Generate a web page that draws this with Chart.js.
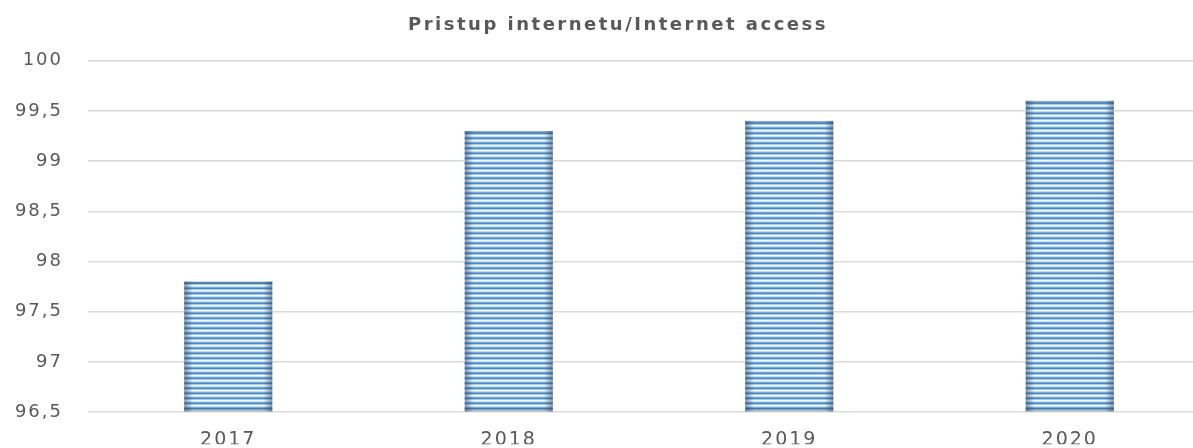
<!DOCTYPE html>
<html>
<head>
<meta charset="utf-8">
<script src="https://cdn.jsdelivr.net/npm/chart.js@4"></script>
<style>
  html, body { margin: 0; padding: 0; background: #fff; overflow: hidden; }
</style>
</head>
<body>
<canvas id="accessChart" width="1236" height="448"></canvas>
<script>
const years = ['2017', '2018', '2019', '2020'];
const accessValues = [97.8, 99.3, 99.4, 99.6];
const yTicks = [96.5, 97, 97.5, 98, 98.5, 99, 99.5, 100];

// horizontal stripe pattern for the bars
function stripePattern() {
    const c = document.createElement('canvas');
    c.width = 1; c.height = 5;
    const g = c.getContext('2d');
    const rows = ['#f4faff', '#c4e0f6', '#74abdc', '#5387ba', '#a2cbee'];
    rows.forEach((col, i) => { g.fillStyle = col; g.fillRect(0, i, 1, 1); });
    return g.createPattern(c, 'repeat');
}

// the source text is drawn wide: add letter spacing per element
function spaced(box, method, px) {
    if (!box || box['_sp_' + method]) return;
    const orig = box[method];
    box[method] = function (...args) {
        const c = this.ctx;
        const prev = c.letterSpacing;
        c.letterSpacing = px;
        orig.apply(this, args);
        c.letterSpacing = prev;
    };
    box['_sp_' + method] = true;
}
const wideText = {
    id: 'wideText',
    afterLayout(chart) {
        // centre the title a bit further right, as in the source
        chart.titleBlock.left = 26;
        chart.titleBlock.right = chart.chartArea.right;
        spaced(chart.titleBlock, 'draw', '2.5px');
        spaced(chart.scales.y, 'drawLabels', '2px');
        spaced(chart.scales.x, 'drawLabels', '2px');
    }
};

// darker shading along the bar edges
const edgeShade = {
    id: 'edgeShade',
    afterDatasetsDraw(chart) {
        const ctx = chart.ctx;
        chart.getDatasetMeta(0).data.forEach(bar => {
            const left = bar.x - bar.width / 2, right = bar.x + bar.width / 2;
            const grad = ctx.createLinearGradient(left, 0, right, 0);
            grad.addColorStop(0, 'rgba(40,60,90,0.5)');
            grad.addColorStop(0.1, 'rgba(40,60,90,0)');
            grad.addColorStop(0.9, 'rgba(40,60,90,0)');
            grad.addColorStop(1, 'rgba(40,60,90,0.5)');
            ctx.save();
            ctx.fillStyle = grad;
            ctx.fillRect(left, bar.y, bar.width, bar.base - bar.y);
            ctx.fillStyle = 'rgba(40,60,90,0.3)';
            ctx.fillRect(left, bar.y, bar.width, 2);
            ctx.fillRect(left, bar.base - 3, bar.width, 3);
            ctx.restore();
        });
    }
};

const ctx = document.getElementById('accessChart').getContext('2d');
new Chart(ctx, {
    type: 'bar',
    data: {
        labels: years,
        datasets: [{
            label: 'Internet access',
            data: accessValues,
            backgroundColor: stripePattern(),
            borderWidth: 0,
            categoryPercentage: 1,
            barPercentage: 0.314,
            base: 96.5
        }]
    },
    options: {
        responsive: false,
        animation: false,
        layout: { padding: { left: 0, right: 26, top: 0, bottom: 0 } },
        plugins: {
            legend: { display: false },
            tooltip: { enabled: false },
            title: {
                display: true,
                text: 'Pristup internetu/Internet access',
                color: '#595959',
                font: { family: 'DejaVu Sans', size: 18, weight: 'bold' },
                padding: { top: 15, bottom: 24 }
            }
        },
        scales: {
            x: {
                grid: { display: false },
                border: { display: false },
                ticks: { color: '#595959', font: { family: 'DejaVu Sans', size: 19 }, padding: 8 },
                afterFit(scale) { scale.height = 32; }
            },
            y: {
                min: 96.5,
                max: 100,
                afterBuildTicks(scale) { scale.ticks = yTicks.map(v => ({ value: v })); },
                grid: { color: '#d9d9d9', lineWidth: 1.5, drawTicks: false },
                border: { display: false },
                ticks: {
                    color: '#595959',
                    font: { family: 'DejaVu Sans', size: 18 },
                    padding: 25,
                    callback: v => String(v).replace('.', ',')
                },
                afterFit(scale) { scale.width = 88; }
            }
        }
    },
    plugins: [wideText, edgeShade]
});
</script>
</body>
</html>
